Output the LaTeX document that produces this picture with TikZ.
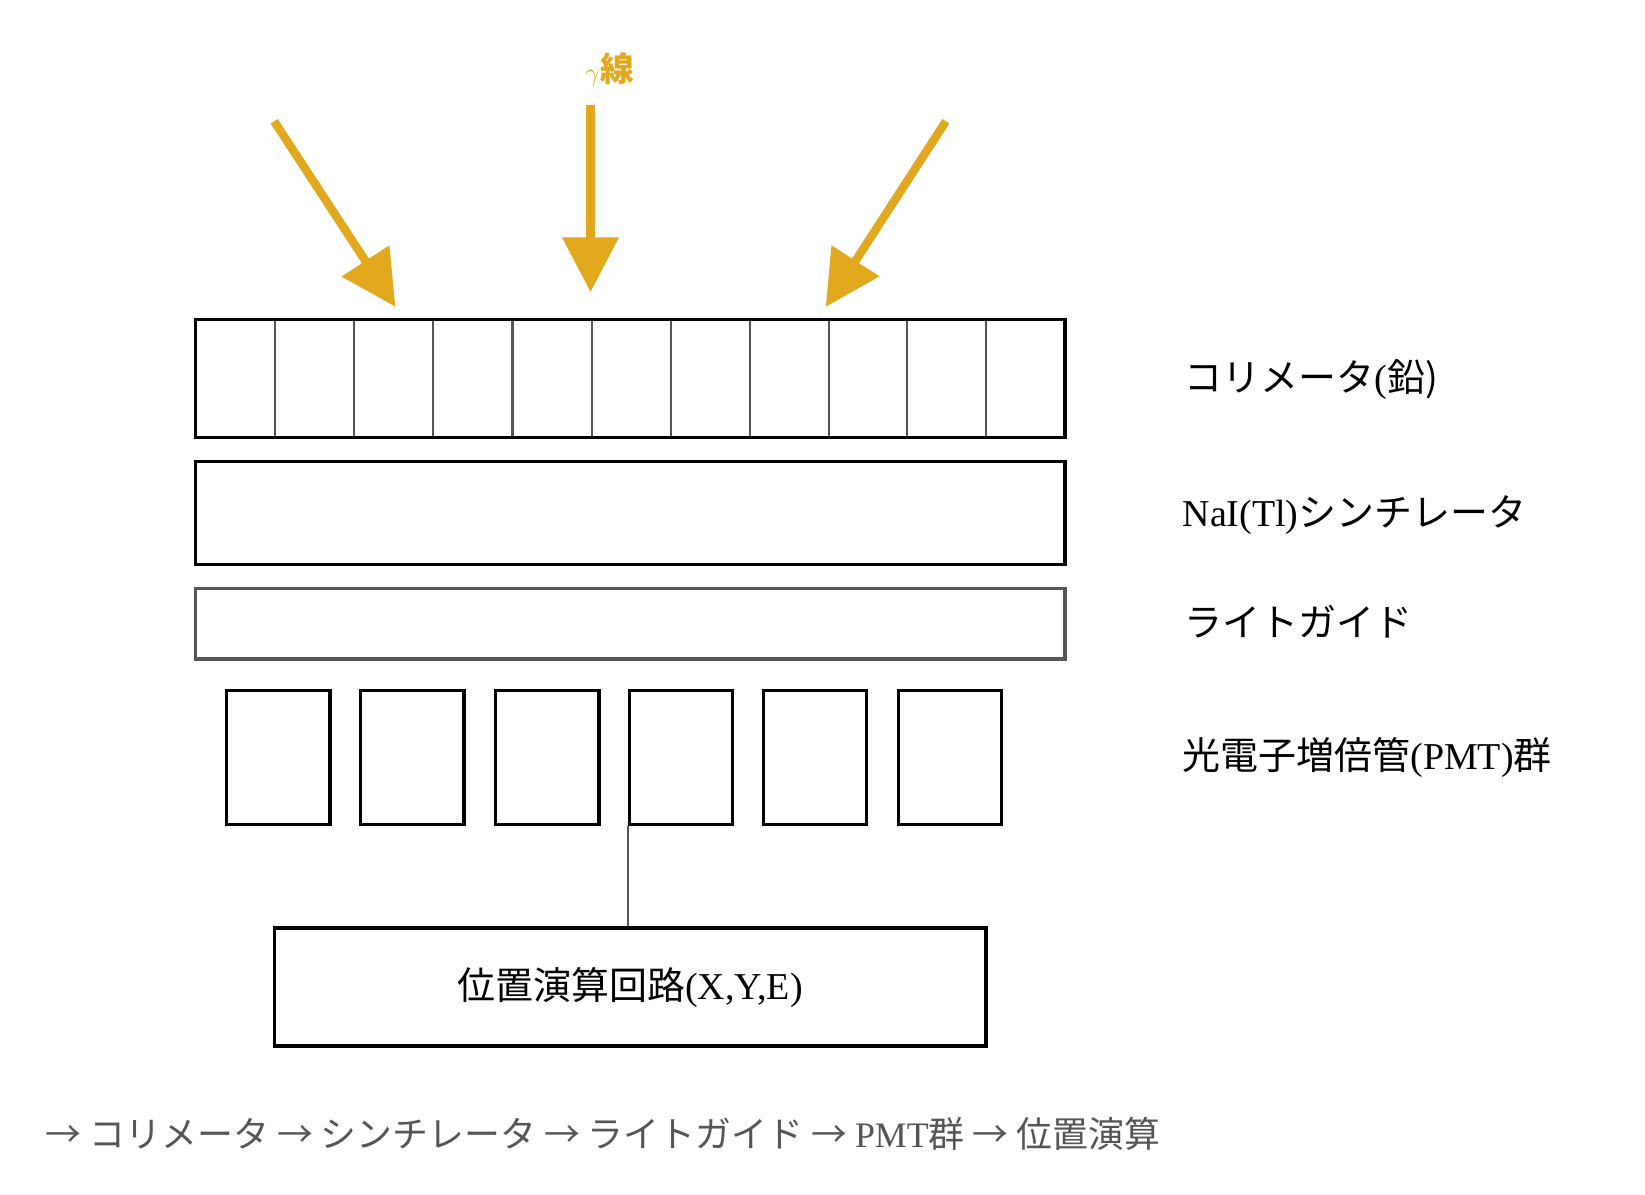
\documentclass[tikz,border=0pt]{standalone}
\usepackage{fontspec}
\setmainfont{Liberation Serif}
\newfontfamily\cjk{Noto Sans CJK JP}
\usetikzlibrary{arrows.meta}
\definecolor{gold}{HTML}{E2A81E}
\definecolor{dgray}{HTML}{555555}
\begin{document}
\begin{tikzpicture}[x=1pt,y=-1pt,
  blk/.style={draw=black,line width=3pt},
  gbx/.style={draw=dgray,line width=3pt},
  pmt/.style={draw=black,line width=3pt,minimum width=98pt,minimum height=127pt,inner sep=0pt},
  lab/.style={anchor=west,font=\fontsize{36}{40}\selectfont},
  gam/.style={gold,line width=8pt,-{Triangle[length=52pt,width=52pt]}}]
\useasboundingbox (0,0) rectangle (1560,1133);
% collimator
\node[blk,minimum width=825pt,minimum height=112pt,inner sep=0pt] (col) at (597.5,359) {};
\foreach \x in {261,336,411,486,561,636,711,786,860,935}
  \draw[dgray,line width=2pt] (\x,304.5) -- (\x,413.5);
\node[blk,minimum width=825pt,minimum height=97pt,inner sep=0pt] (sci) at (597.5,486.5) {};
\node[gbx,minimum width=825pt,minimum height=67pt,inner sep=0pt] (lg) at (597.5,591.5) {};
\foreach \x/\n in {264/1,391/2,519/3,646/4,773/5,901/6}
  \node[pmt] (p\n) at (\x,718.5) {};
\node[blk,minimum width=675pt,minimum height=112pt,inner sep=0pt,font=\fontsize{36}{40}\selectfont] (calc) at (597.5,936) {{\cjk 位置演算回路}(X,Y,E)};
\draw[dgray,line width=2pt] (p4.south west) -- (p4.south west |- calc.north);
% labels
\node[lab] (l1) at (1120,360) {{\cjk コリメータ}(\cjk 鉛)};
\node[lab] (l2) at (1118,488) {NaI(Tl){\cjk シンチレータ}};
\node[lab] (l3) at (1120,590) {\cjk ライトガイド};
\node[lab] (l4) at (1118,718) {{\cjk 光電子増倍管}(PMT){\cjk 群}};
% gamma
\node[gold,font=\fontsize{32}{36}\selectfont\bfseries] (g) at (578,66) {$\gamma${\cjk 線}};
\coordinate (a1s) at (260,115); \coordinate (a1e) at (375,291);
\coordinate (a2s) at (560,100); \coordinate (a2e) at (560,277);
\coordinate (a3s) at (897,115); \coordinate (a3e) at (783,291);
\draw[gam] (a1s) -- (a1e);
\draw[gam] (a2s) -- (a2e);
\draw[gam] (a3s) -- (a3e);
% bottom
\node[anchor=west,text=dgray,font=\fontsize{34}{40}\selectfont] (flow) at (40,1075)
 {\cjk → コリメータ → シンチレータ → ライトガイド → {\rmfamily PMT}群 → 位置演算};
\end{tikzpicture}
\end{document}
